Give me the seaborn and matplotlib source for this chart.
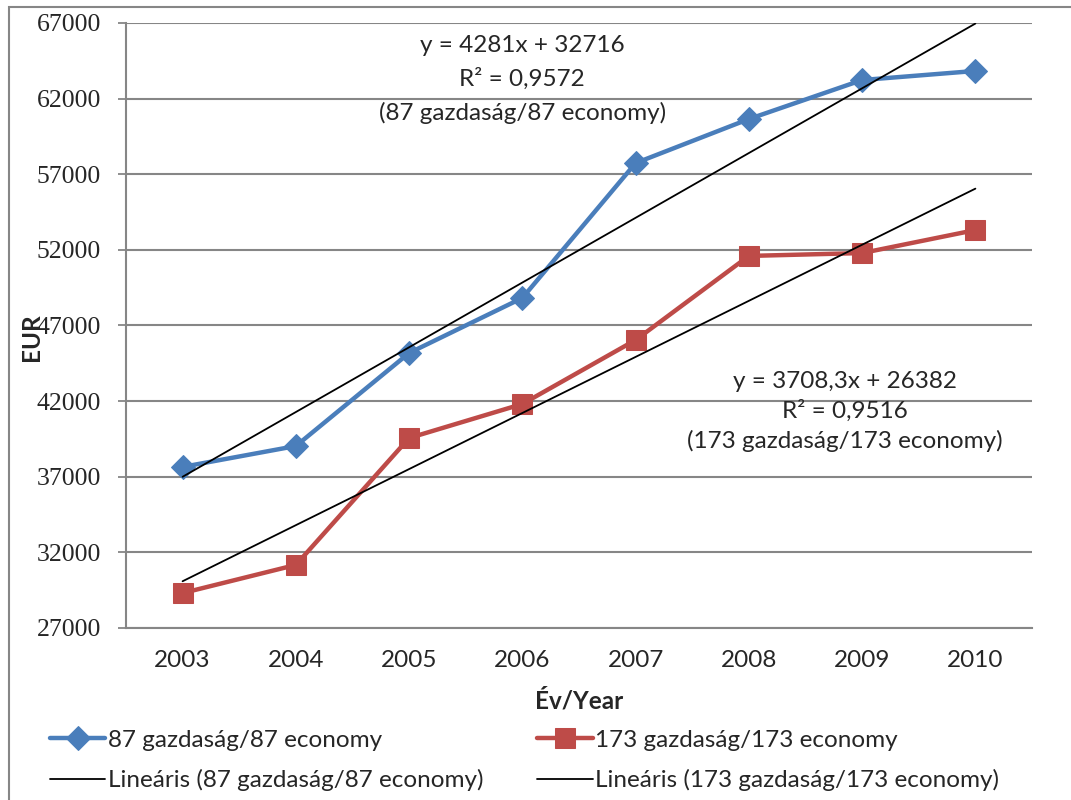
import numpy as np
import matplotlib
matplotlib.use("Agg")
import matplotlib.pyplot as plt
import matplotlib.patches as mpatches
import seaborn as sns

years = ["2003", "2004", "2005", "2006", "2007", "2008", "2009", "2010"]
eco87 = [37650, 39030, 45180, 48820, 57740, 60650, 63230, 63830]
eco173 = [29310, 31170, 39560, 41810, 46040, 51600, 51790, 53310]
yticks = [27000, 32000, 37000, 42000, 47000, 52000, 57000, 62000, 67000]

# trend coefficients as printed on the chart (x = 1..8)
slope87, icpt87 = 4281, 32716
slope173, icpt173 = 3708.3, 26382

lab87 = "87 gazdaság/87 economy"
lab173 = "173 gazdaság/173 economy"

sns.set_style("white")
plt.rcParams['font.family'] = ['Lato', 'DejaVu Sans']

blue = "#4A7EBB"
red = "#BE4B48"
grey = "#868686"

fig = plt.figure(figsize=(10.71, 8), dpi=100)
ax = fig.add_axes([0.1176, 0.215, 0.8460, 0.75625])

idx = np.arange(len(years))
xx = idx + 1

sns.lineplot(x=idx, y=eco87, ax=ax, color=blue, lw=3.2, marker='D', markersize=12,
             markeredgecolor=blue, label=lab87, zorder=3)
sns.lineplot(x=idx, y=eco173, ax=ax, color=red, lw=3.2, marker='s', markersize=14,
             markeredgecolor=red, label=lab173, zorder=3)
sns.lineplot(x=idx, y=slope87 * xx + icpt87, ax=ax, color='black', lw=1.3,
             label="Lineáris (" + lab87 + ")", zorder=4)
sns.lineplot(x=idx, y=slope173 * xx + icpt173, ax=ax, color='black', lw=1.3,
             label="Lineáris (" + lab173 + ")", zorder=4)

ax.set_xlim(-0.5, 7.5)
ax.set_ylim(27000, 67000)
ax.set_yticks(yticks, labels=[str(v) for v in yticks],
              fontfamily=['Liberation Serif', 'DejaVu Serif'], fontsize=18.5)
ax.set_xticks(idx, labels=years, fontsize=17.5)
ax.tick_params(axis='y', length=6, width=1.3, color=grey, pad=12, left=True)
ax.tick_params(axis='x', length=0, pad=16)

ax.grid(axis='y', color=grey, lw=1.5)
ax.set_axisbelow(True)
for s in ['top', 'right']:
    ax.spines[s].set_visible(False)
for s in ['left', 'bottom']:
    ax.spines[s].set_color(grey)
    ax.spines[s].set_linewidth(1.5)

ax.set_xlabel("Év/Year", fontsize=17.5, fontweight='bold', labelpad=13)
ax.set_ylabel("EUR", fontsize=17.5, fontweight='bold')
ax.yaxis.set_label_coords(-0.092, 0.48)

ax.text(3.0, 63250, "y = 4281x + 32716\nR² = 0,9572\n(87 gazdaság/87 economy)",
        ha='center', va='center', fontsize=17.5, linespacing=1.65)
ax.text(5.85, 41300, "y = 3708,3x + 26382\nR² = 0,9516\n(173 gazdaság/173 economy)",
        ha='center', va='center', fontsize=17.5, linespacing=1.45)

h, l = ax.get_legend_handles_labels()
order = [0, 2, 1, 3]
ax.legend([h[i] for i in order], [l[i] for i in order], ncol=2, frameon=False,
          fontsize=17.5, loc='upper left', bbox_to_anchor=(-0.095, -0.152),
          handlelength=2.3, handletextpad=0.1, columnspacing=2.2, labelspacing=0.75,
          borderaxespad=0)

fig.patches.append(mpatches.Rectangle((9 / 1071, -0.1), 1.2, 1.1 - 7 / 800,
                                      transform=fig.transFigure, fill=False,
                                      edgecolor=grey, lw=1.5))

fig.savefig("out.png", dpi=100)
